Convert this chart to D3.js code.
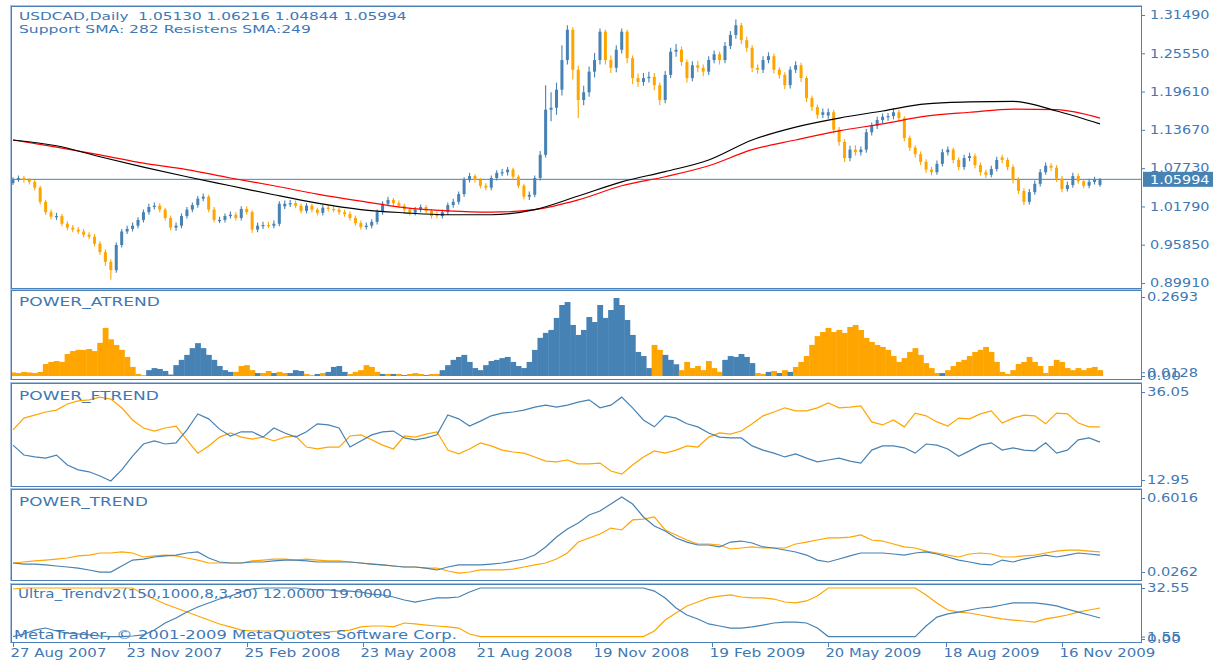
<!DOCTYPE html>
<html><head><meta charset="utf-8">
<script src="https://cdn.jsdelivr.net/npm/d3@7/dist/d3.min.js"></script>
<style>html,body{margin:0;padding:0;background:#fff;overflow:hidden}</style>
</head><body>
<svg id="chart" width="1213" height="661"></svg>
<script>
// ---------- DATA (3 trading days per candle, 201 candles) ----------
const opens=[1.054,1.059,1.062,1.059,1.056,1.047,1.025,1.009,1.002,1.003,
0.991,0.985,0.982,0.979,0.974,0.971,0.960,0.947,0.932,0.919,
0.958,0.979,0.983,0.988,0.997,1.009,1.017,1.019,1.013,1.000,
0.985,0.988,1.003,1.013,1.020,1.030,1.033,1.013,0.995,0.997,
1.003,1.005,1.000,1.014,1.009,0.982,0.988,0.989,0.988,0.991,
1.018,1.022,1.023,1.019,1.011,1.019,1.013,1.008,1.016,1.014,
1.013,1.009,1.006,1.000,0.992,0.986,0.988,0.994,1.009,1.022,
1.028,1.023,1.019,1.013,1.008,1.013,1.017,1.011,1.006,1.003,
1.009,1.020,1.025,1.037,1.059,1.065,1.059,1.050,1.047,1.062,
1.070,1.071,1.075,1.064,1.050,1.033,1.036,1.062,1.098,1.168,
1.171,1.199,1.245,1.292,1.230,1.183,1.195,1.227,1.245,1.289,
1.245,1.233,1.261,1.289,1.248,1.217,1.211,1.217,1.219,1.206,
1.183,1.222,1.258,1.261,1.242,1.217,1.237,1.233,1.227,1.245,
1.254,1.245,1.267,1.284,1.299,1.276,1.264,1.233,1.230,1.245,
1.251,1.230,1.222,1.206,1.230,1.237,1.217,1.186,1.172,1.160,
1.159,1.164,1.137,1.118,1.093,1.106,1.102,1.106,1.133,1.143,
1.152,1.157,1.158,1.164,1.155,1.124,1.109,1.099,1.087,1.075,
1.071,1.084,1.102,1.106,1.090,1.079,1.093,1.096,1.082,1.071,
1.067,1.076,1.094,1.090,1.079,1.059,1.042,1.025,1.040,1.053,
1.071,1.081,1.078,1.061,1.045,1.051,1.065,1.057,1.050,1.056,
1.0513];
const highs=[1.063,1.066,1.065,1.062,1.059,1.050,1.028,1.013,1.008,1.006,
0.995,0.989,0.986,0.983,0.978,0.975,0.964,0.951,0.936,0.962,
0.983,0.988,0.993,1.001,1.013,1.022,1.024,1.023,1.016,1.004,
0.993,1.007,1.017,1.024,1.034,1.038,1.036,1.017,1.002,1.007,
1.010,1.009,1.018,1.018,1.012,0.993,0.994,0.994,0.996,1.026,
1.027,1.028,1.027,1.022,1.023,1.022,1.016,1.020,1.020,1.018,
1.016,1.013,1.010,1.004,0.996,0.993,0.998,1.013,1.026,1.033,
1.031,1.027,1.022,1.016,1.017,1.021,1.020,1.014,1.010,1.013,
1.024,1.030,1.041,1.063,1.070,1.068,1.062,1.054,1.066,1.074,
1.076,1.079,1.078,1.067,1.053,1.041,1.066,1.104,1.206,1.195,
1.210,1.268,1.299,1.296,1.236,1.205,1.235,1.256,1.294,1.292,
1.252,1.268,1.294,1.292,1.252,1.224,1.225,1.227,1.225,1.210,
1.228,1.264,1.270,1.266,1.246,1.243,1.244,1.238,1.251,1.260,
1.258,1.273,1.290,1.308,1.303,1.281,1.268,1.238,1.251,1.257,
1.255,1.234,1.226,1.235,1.243,1.241,1.220,1.190,1.176,1.170,
1.170,1.168,1.141,1.122,1.112,1.113,1.111,1.138,1.148,1.157,
1.162,1.163,1.170,1.168,1.158,1.128,1.113,1.103,1.091,1.079,
1.089,1.107,1.111,1.109,1.094,1.098,1.101,1.100,1.086,1.075,
1.081,1.095,1.098,1.094,1.083,1.063,1.046,1.045,1.058,1.076,
1.086,1.085,1.082,1.065,1.056,1.070,1.069,1.061,1.061,1.064,
1.06216];
const lows=[1.051,1.056,1.055,1.052,1.043,1.021,1.005,0.998,0.997,0.987,
0.981,0.978,0.975,0.970,0.967,0.956,0.943,0.926,0.904,0.915,
0.954,0.975,0.979,0.984,0.993,1.005,1.013,1.009,0.996,0.981,
0.980,0.984,0.999,1.009,1.016,1.026,1.009,0.993,0.992,0.993,
0.999,0.996,0.996,1.005,0.977,0.978,0.983,0.984,0.984,0.987,
1.014,1.017,1.015,1.007,1.007,1.009,1.004,1.004,1.010,1.009,
1.005,1.002,0.996,0.988,0.982,0.982,0.984,0.990,1.005,1.018,
1.019,1.015,1.009,1.004,1.004,1.009,1.007,0.999,0.999,0.999,
1.005,1.016,1.021,1.033,1.055,1.055,1.046,1.043,1.043,1.058,
1.065,1.066,1.060,1.046,1.029,1.028,1.032,1.058,1.094,1.150,
1.160,1.190,1.238,1.215,1.155,1.175,1.188,1.218,1.238,1.238,
1.225,1.226,1.255,1.240,1.208,1.203,1.205,1.210,1.198,1.175,
1.178,1.217,1.250,1.236,1.210,1.212,1.226,1.220,1.222,1.240,
1.238,1.240,1.262,1.278,1.270,1.258,1.226,1.224,1.225,1.240,
1.224,1.216,1.200,1.201,1.225,1.211,1.180,1.166,1.154,1.155,
1.154,1.131,1.112,1.087,1.088,1.097,1.097,1.101,1.128,1.138,
1.147,1.151,1.153,1.150,1.119,1.104,1.094,1.082,1.070,1.066,
1.067,1.080,1.097,1.085,1.074,1.075,1.088,1.077,1.066,1.062,
1.063,1.072,1.085,1.074,1.054,1.037,1.020,1.021,1.036,1.049,
1.067,1.073,1.056,1.040,1.041,1.047,1.053,1.046,1.046,1.052,
1.04844];
const closes=[1.059,1.062,1.059,1.056,1.047,1.025,1.009,1.002,1.003,0.991,
0.985,0.982,0.979,0.974,0.971,0.960,0.947,0.932,0.919,0.958,
0.979,0.983,0.988,0.997,1.009,1.017,1.019,1.013,1.000,0.985,
0.988,1.003,1.013,1.020,1.030,1.033,1.013,0.997,0.997,1.003,
1.005,1.000,1.014,1.009,0.982,0.988,0.989,0.988,0.991,1.022,
1.022,1.023,1.019,1.011,1.019,1.013,1.008,1.016,1.014,1.013,
1.009,1.006,1.000,0.992,0.986,0.988,0.994,1.009,1.022,1.028,
1.023,1.019,1.013,1.008,1.013,1.017,1.011,1.003,1.003,1.009,
1.020,1.025,1.037,1.059,1.065,1.059,1.050,1.047,1.062,1.070,
1.071,1.075,1.064,1.050,1.033,1.036,1.062,1.098,1.168,1.171,
1.199,1.245,1.292,1.230,1.183,1.195,1.227,1.245,1.289,1.245,
1.233,1.261,1.289,1.248,1.217,1.211,1.217,1.219,1.206,1.183,
1.222,1.258,1.261,1.242,1.217,1.237,1.233,1.227,1.245,1.254,
1.245,1.267,1.284,1.299,1.276,1.264,1.233,1.230,1.245,1.251,
1.230,1.222,1.206,1.230,1.237,1.217,1.186,1.172,1.160,1.164,
1.164,1.137,1.118,1.093,1.106,1.102,1.106,1.133,1.143,1.152,
1.157,1.158,1.164,1.155,1.124,1.109,1.099,1.087,1.075,1.071,
1.084,1.102,1.106,1.090,1.079,1.093,1.096,1.082,1.071,1.067,
1.076,1.090,1.090,1.079,1.059,1.042,1.025,1.040,1.053,1.071,
1.081,1.078,1.061,1.045,1.051,1.065,1.057,1.050,1.056,1.059,
1.05994];
// SMA values, one per 8 candles
const smaSupport=[1.121,1.112,1.095,1.079,1.064,1.050,1.036,1.023,1.013,1.008,1.005,1.005,1.013,1.034,1.056,1.072,1.090,1.121,1.141,1.155,1.166,1.177,1.180,1.181,1.166,1.146];
const smaResist=[1.121,1.110,1.098,1.085,1.075,1.062,1.050,1.037,1.026,1.016,1.011,1.009,1.013,1.028,1.050,1.064,1.081,1.106,1.121,1.135,1.146,1.158,1.164,1.169,1.168,1.155];
// POWER_ATREND, one per candle; side runs: u = blue, d = orange
const atrendValues=[0.012,0.010,0.014,0.012,0.010,0.014,0.041,0.048,0.051,0.048,
0.075,0.085,0.089,0.089,0.092,0.085,0.113,0.164,0.125,0.106,
0.089,0.065,0.031,0.007,0.003,0.020,0.027,0.024,0.017,0.005,
0.037,0.055,0.072,0.095,0.112,0.095,0.072,0.055,0.034,0.020,
0.014,0.014,0.034,0.037,0.020,0.010,0.010,0.017,0.010,0.014,
0.010,0.010,0.020,0.017,0.007,0.003,0.007,0.010,0.014,0.031,
0.034,0.014,0.007,0.014,0.020,0.037,0.031,0.014,0.007,0.007,
0.007,0.007,0.003,0.007,0.010,0.007,0.003,0.007,0.007,0.020,
0.037,0.055,0.065,0.072,0.048,0.027,0.020,0.037,0.051,0.055,
0.061,0.065,0.048,0.034,0.027,0.048,0.089,0.130,0.147,0.157,
0.198,0.242,0.252,0.174,0.140,0.157,0.201,0.184,0.242,0.198,
0.225,0.266,0.242,0.191,0.140,0.082,0.068,0.027,0.106,0.089,
0.072,0.055,0.040,0.020,0.048,0.027,0.034,0.020,0.051,0.027,
0.014,0.055,0.068,0.065,0.075,0.065,0.044,0.010,0.007,0.014,
0.017,0.010,0.020,0.014,0.031,0.048,0.068,0.106,0.136,0.150,
0.164,0.150,0.157,0.147,0.167,0.174,0.157,0.130,0.116,0.106,
0.099,0.089,0.068,0.048,0.061,0.082,0.095,0.072,0.044,0.027,
0.010,0.010,0.020,0.034,0.048,0.055,0.068,0.082,0.089,0.099,
0.082,0.048,0.014,0.007,0.020,0.041,0.048,0.065,0.048,0.034,
0.010,0.034,0.055,0.048,0.027,0.020,0.027,0.020,0.027,0.031,
0.020];
const atrendRuns=[["d",25],["u",16],["d",4],["u",1],["d",2],["u",1],["d",2],["u",3],["d",2],["u",1],["d",1],["u",4],["d",6],["u",1],["d",1],["u",1],["d",1],["u",1],["d",3],["u",1],["d",2],["u",39],["d",2],["u",3],["d",8],["u",6],["d",2],["u",1],["d",1],["u",1],["d",1],["u",1],["d",27],["u",1],["d",29]];
// indicator lines, one value per 2 candles
const ftrendOrange=[26.1,29.2,30.0,30.8,31.3,32.9,33.7,34.0,34.7,34.2,31.9,28.7,26.6,25.8,26.6,27.1,23.5,20.0,21.9,24.2,25.3,24.2,23.7,24.2,23.2,24.2,24.5,21.6,21.1,21.6,21.6,24.5,24.8,23.5,22.1,21.1,24.5,24.2,25.0,25.6,20.8,19.8,21.1,22.7,21.9,20.8,20.3,20.0,19.0,17.9,17.7,18.2,17.2,17.2,17.4,15.3,14.5,16.9,19.0,20.6,20.0,20.8,21.9,21.6,24.2,25.3,25.0,25.8,27.7,29.8,30.8,31.9,31.1,31.1,31.9,33.2,31.9,32.1,32.4,28.2,27.4,28.7,26.9,30.5,29.8,28.2,27.1,29.2,29.0,30.3,31.1,27.9,29.2,30.0,29.8,27.7,30.5,30.3,27.9,26.9,26.9];
const ftrendBlue=[22.1,19.5,19.0,18.7,19.5,16.9,15.6,15.1,14.0,12.7,15.6,19.2,22.4,23.2,22.4,22.7,26.1,30.3,29.0,26.3,24.5,25.6,25.6,24.2,26.6,25.3,24.2,25.6,27.7,27.4,26.6,21.6,23.2,24.8,25.6,25.8,24.0,23.5,24.0,24.8,30.0,29.0,27.1,28.4,29.8,30.5,30.8,31.3,32.1,32.6,32.1,32.6,33.4,34.0,31.9,32.6,34.7,31.9,28.7,26.9,29.8,29.2,27.7,26.9,25.3,24.2,24.0,24.0,21.9,20.8,20.0,19.0,19.8,18.7,17.7,18.2,18.7,17.9,17.4,20.8,21.9,21.9,21.4,20.0,22.4,22.1,21.1,19.2,20.6,22.1,22.7,20.8,21.4,20.8,20.6,22.7,20.0,20.8,23.5,24.0,22.9];
const trendOrange=[.096,.104,.112,.119,.127,.135,.151,.158,.174,.174,.182,.174,.143,.151,.158,.151,.135,.119,.096,.096,.096,.096,.112,.119,.127,.127,.119,.127,.119,.112,.112,.104,.096,.088,.081,.073,.065,.065,.057,.057,.034,.018,.026,.042,.042,.042,.049,.065,.081,.096,.127,.174,.259,.291,.322,.368,.353,.431,.438,.454,.353,.314,.275,.244,.244,.236,.205,.213,.221,.213,.213,.213,.244,.259,.275,.291,.291,.298,.314,.275,.267,.244,.221,.213,.189,.174,.158,.143,.166,.174,.166,.143,.143,.151,.158,.174,.189,.197,.197,.189,.182];
const trendBlue=[.096,.088,.088,.081,.073,.065,.057,.042,.026,.026,.073,.119,.127,.143,.151,.158,.174,.182,.135,.104,.096,.096,.104,.104,.112,.119,.119,.112,.104,.104,.104,.104,.096,.088,.081,.073,.065,.065,.057,.042,.065,.081,.081,.081,.088,.096,.112,.127,.158,.221,.298,.361,.407,.469,.501,.555,.609,.555,.454,.384,.345,.291,.259,.236,.236,.221,.259,.267,.252,.221,.213,.197,.182,.158,.119,.104,.127,.151,.174,.174,.174,.166,.158,.174,.182,.166,.143,.119,.104,.088,.081,.119,.104,.127,.143,.158,.143,.158,.174,.166,.158];
const ultraOrange=[31.9,32.55,32.55,32.55,32.55,32.55,32.55,32.55,32.55,32.55,32.55,32.55,28.7,25.5,22.3,19.8,17.2,14.7,12.1,9.6,7.7,5.7,5.1,5.1,5.1,5.1,5.1,4.5,4.5,4.5,5.1,5.7,7.7,8.3,8.3,7.7,10.2,9.6,8.9,8.3,7.7,7.0,3.2,1.55,1.55,1.55,1.55,1.55,1.55,1.55,1.55,1.55,1.55,1.55,1.55,1.55,1.55,1.55,1.55,5.1,12.1,16.6,21.1,23.6,26.2,27.4,28.1,26.8,26.2,26.2,25.5,23.6,23.0,24.3,27.4,32.55,32.55,32.55,32.55,32.55,32.55,32.55,32.55,32.55,28.1,23.0,18.5,17.2,16.6,15.3,14.0,12.8,12.1,11.5,10.8,12.8,14.0,15.3,17.2,18.5,19.8];
const ultraBlue=[1.55,3.2,5.7,7.0,5.1,3.8,3.2,2.6,1.9,1.55,1.55,1.9,2.6,5.7,10.2,13.4,17.2,20.4,23.0,25.5,27.4,30.0,31.9,32.55,32.55,32.55,32.55,31.9,31.3,31.3,30.6,30.6,30.0,28.7,28.1,26.8,24.9,23.6,24.9,26.2,26.2,26.8,30.0,32.55,32.55,32.55,32.55,32.55,32.55,32.55,32.55,32.55,32.55,32.55,32.55,32.55,32.55,32.55,32.55,30.6,26.2,19.8,15.3,12.8,9.6,8.3,7.0,7.0,7.7,8.9,10.2,10.8,10.8,10.2,7.0,1.55,1.55,1.55,1.55,1.55,1.55,1.55,1.55,1.55,8.3,14.0,16.0,17.2,18.5,19.8,20.4,21.7,23.0,23.0,23.0,22.3,21.1,19.1,17.2,15.3,13.4];
// axes
const dateTickDays=[0,64,129,193,257,322,386,450,515,579];
const dateTickLabels=["27 Aug 2007","23 Nov 2007","25 Feb 2008","23 May 2008","21 Aug 2008","19 Nov 2008","19 Feb 2009","20 May 2009","18 Aug 2009","16 Nov 2009"];
const priceTicks=[1.31490,1.25550,1.19610,1.13670,1.07730,1.01790,0.95850,0.89910];
const lastPrice=1.05994;
const atrTicks=[0.2693,0.0128,0], atrTickText=["0.2693","0.0128","0.00"];
const ftrTicks=[36.05,12.95], ftrTickText=["36.05","12.95"];
const trTicks=[0.6016,0.0262], trTickText=["0.6016","0.0262"];
const ultTicks=[32.55,1.55,0], ultTickText=["32.55","1.55","0.00"];
const titleLine1="USDCAD,Daily  1.05130 1.06216 1.04844 1.05994";
const titleLine2="Support SMA: 282 Resistens SMA:249";

// ---------- DRAWING ----------
const BLUE="#4682B4", ORANGE="#FFA500", TXT="#4178b4", FRAME="#4a7fb8", FRAME2="#a9c3df";
const FONT="DejaVu Sans, Verdana, sans-serif";
const svg=d3.select("#chart");
svg.append("rect").attr("width",1213).attr("height",661).attr("fill","#fff");
const XL=11, XR=1141;
const panels={main:{top:6,bottom:288},atr:{top:290,bottom:379},ftr:{top:383,bottom:486},tr:{top:489,bottom:580},ult:{top:584,bottom:642}};
const defs=svg.append("defs");
Object.entries(panels).forEach(([k,p])=>{
  defs.append("clipPath").attr("id","clip_"+k).append("rect")
    .attr("x",XL+1).attr("y",p.top+1).attr("width",XR-XL-1).attr("height",p.bottom-p.top-1);
});
const DAYS_PER_CANDLE=3, DAYS_PER_LINEPT=6, DAYS_PER_SMA=24;
const x=d3.scaleLinear().domain([0,600]).range([13,1100]);
const yMain=d3.scaleLinear().domain([0.8991,1.3149]).range([283,15]);
const yAtr=d3.scaleLinear().domain([0,0.2693]).range([376,297]);
const yFtr=d3.scaleLinear().domain([12.95,36.05]).range([480,392]);
const yTr=d3.scaleLinear().domain([0.0262,0.6016]).range([572,498]);
const yUlt=d3.scaleLinear().domain([0,32.55]).range([639,588]);

function txt(parent,x0,y0,str,w,fill,size){
  const g=parent.append("g").attr("transform",`translate(${x0},${y0})`);
  const t=g.append("text").attr("x",0).attr("y",0).attr("fill",fill||TXT)
    .attr("font-family",FONT).attr("font-size",size||12).style("white-space","pre").text(str);
  const L=t.node().getComputedTextLength();
  if(w&&L>0) t.attr("transform",`scale(${w/L},1)`);
  return t;
}

// ---- main panel ----
const gm=svg.append("g").attr("clip-path","url(#clip_main)");
gm.append("line").attr("x1",XL).attr("x2",XR).attr("y1",yMain(lastPrice)).attr("y2",yMain(lastPrice))
  .attr("stroke",BLUE).attr("stroke-width",1);
const idx=d3.range(closes.length);
const bw=3.0;
const cg=gm.append("g");
cg.selectAll("line.w").data(idx).join("line").attr("class","w")
  .attr("x1",i=>x(i*DAYS_PER_CANDLE)).attr("x2",i=>x(i*DAYS_PER_CANDLE))
  .attr("y1",i=>yMain(highs[i])).attr("y2",i=>yMain(lows[i]))
  .attr("stroke",i=>closes[i]>=opens[i]?BLUE:ORANGE).attr("stroke-width",1.1);
cg.selectAll("rect.b").data(idx).join("rect").attr("class","b")
  .attr("x",i=>x(i*DAYS_PER_CANDLE)-bw/2).attr("width",bw)
  .attr("y",i=>yMain(Math.max(opens[i],closes[i])))
  .attr("height",i=>Math.max(1.2,Math.abs(yMain(opens[i])-yMain(closes[i]))))
  .attr("fill",i=>closes[i]>=opens[i]?BLUE:ORANGE);
const smaLine=d3.line().x((d,j)=>x(j*DAYS_PER_SMA)).y(d=>yMain(d)).curve(d3.curveMonotoneX);
gm.append("path").attr("d",smaLine(smaResist)).attr("fill","none").attr("stroke","#ff0000").attr("stroke-width",1.2);
gm.append("path").attr("d",smaLine(smaSupport)).attr("fill","none").attr("stroke","#000").attr("stroke-width",1.2);

// ---- ATREND histogram ----
const sides=[]; atrendRuns.forEach(([s,n])=>{for(let k=0;k<n;k++) sides.push(s);});
const ga=svg.append("g").attr("clip-path","url(#clip_atr)");
const hw=x(DAYS_PER_CANDLE)-x(0);
ga.selectAll("rect").data(atrendValues).join("rect")
  .attr("x",(d,i)=>x(i*DAYS_PER_CANDLE)-hw/2).attr("width",hw+0.4)
  .attr("y",d=>yAtr(d)).attr("height",d=>Math.max(0,yAtr(0)-yAtr(d)))
  .attr("fill",(d,i)=>sides[i]==="u"?BLUE:ORANGE);

// ---- line panels ----
function drawLines(clip,yS,series){
  const g=svg.append("g").attr("clip-path",`url(#clip_${clip})`);
  const ln=d3.line().x((d,j)=>x(j*DAYS_PER_LINEPT)).y(d=>yS(d));
  series.forEach(([arr,col])=>g.append("path").attr("d",ln(arr)).attr("fill","none").attr("stroke",col).attr("stroke-width",1.2));
}
drawLines("ftr",yFtr,[[ftrendOrange,ORANGE],[ftrendBlue,BLUE]]);
drawLines("tr",yTr,[[trendOrange,ORANGE],[trendBlue,BLUE]]);
drawLines("ult",yUlt,[[ultraOrange,ORANGE],[ultraBlue,BLUE]]);

// ---- frames ----
Object.values(panels).forEach(p=>{
  svg.append("rect").attr("x",XL-0.5).attr("y",p.top-0.5).attr("width",XR-XL+1).attr("height",p.bottom-p.top+1)
    .attr("fill","none").attr("stroke",FRAME2).attr("stroke-width",1);
  svg.append("rect").attr("x",XL+0.5).attr("y",p.top+0.5).attr("width",XR-XL).attr("height",p.bottom-p.top)
    .attr("fill","none").attr("stroke",FRAME).attr("stroke-width",1);
});

// ---- right axes ----
function rightLabels(vals,texts,yS,x0){
  vals.forEach((v,i)=>{
    const yy=yS(v);
    svg.append("line").attr("x1",XR).attr("x2",XR+4).attr("y1",yy+0.5).attr("y2",yy+0.5).attr("stroke",FRAME);
    txt(svg,x0,yy+4.3,texts[i],texts[i].length*8.5);
  });
}
rightLabels(priceTicks,priceTicks.map(d=>d.toFixed(5)),yMain,1150);
rightLabels(atrTicks,atrTickText,yAtr,1147);
rightLabels(ftrTicks,ftrTickText,yFtr,1147);
rightLabels(trTicks,trTickText,yTr,1147);
rightLabels(ultTicks,ultTickText,yUlt,1147);
const ly=yMain(lastPrice);
svg.append("rect").attr("x",1143).attr("y",ly-7.5).attr("width",70).attr("height",15).attr("fill",BLUE);
txt(svg,1150,ly+4.3,lastPrice.toFixed(5),59.5,"#ffffff");

// ---- bottom date axis ----
dateTickDays.forEach((d,i)=>{
  const xx=Math.round(x(d))+0.5;
  svg.append("line").attr("x1",xx).attr("x2",xx).attr("y1",642).attr("y2",647).attr("stroke",FRAME);
  txt(svg,xx-3,657,dateTickLabels[i],96);
});

// ---- panel texts ----
txt(svg,19,19.5,titleLine1,388,TXT,11);
txt(svg,19,32.5,titleLine2,292,TXT,11);
txt(svg,19,306,"POWER_ATREND",141);
txt(svg,19,400,"POWER_FTREND",140);
txt(svg,19,506,"POWER_TREND",129);
txt(svg,18,598,"Ultra_Trendv2(150,1000,8,3,30) 12.0000 19.0000",374);
txt(svg,14,639,"MetaTrader, © 2001-2009 MetaQuotes Software Corp.",443);
</script>
</body></html>
